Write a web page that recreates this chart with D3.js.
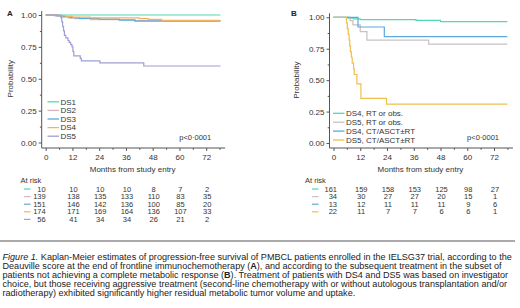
<!DOCTYPE html>
<html>
<head>
<meta charset="utf-8">
<script src="https://cdn.jsdelivr.net/npm/d3@7"></script>
<style>
  body { margin: 0; background: #fff; }
  svg { display: block; font-family: "Liberation Sans", Arial, sans-serif; }
  .axis text { font-size: 8px; fill: #333; }
  .axis line, .axis path { stroke: #555; }
</style>
</head>
<body>
<script>
// ---- data ----
var monthTicks = [0, 12, 24, 36, 48, 60, 72];
var probTicks = [0, 0.25, 0.5, 0.75, 1];

// panel A: Deauville score
var groupsA = ["DS1", "DS2", "DS3", "DS4", "DS5"];
var colorsA = ["#52d8b6", "#d9b6be", "#5ca8df", "#f0b459", "#a09ed3"];
var ds1 = [[0, 1], [78.4, 1]];
var ds2 = [[0, 1], [4, 0.993], [7, 0.986], [10, 0.978], [13, 0.971], [20, 0.964], [40, 0.957], [78.4, 0.957]];
var ds3 = [[0, 1], [5, 0.993], [8, 0.987], [11, 0.98], [15, 0.973], [24, 0.967], [33, 0.96], [40, 0.952], [78.4, 0.952]];
var ds4 = [[0, 1], [6, 0.994], [9, 0.989], [12, 0.983], [20, 0.977], [42, 0.971], [46, 0.965], [52, 0.958], [78.4, 0.958]];
var ds5 = [[0, 1], [6.8, 0.98], [7.2, 0.946], [7.6, 0.91], [8.0, 0.875], [8.4, 0.84], [9.0, 0.821], [10.0, 0.80], [10.5, 0.786],
           [11.2, 0.768], [11.8, 0.75], [12.2, 0.714], [12.6, 0.68], [15.5, 0.66], [16, 0.64], [24.3, 0.625], [44, 0.60], [78.4, 0.60]];
var curvesA = [ds1, ds2, ds3, ds4, ds5];
var riskA = [
  [10, 10, 10, 10, 8, 7, 2],
  [139, 138, 135, 133, 110, 83, 35],
  [151, 146, 142, 136, 100, 85, 20],
  [174, 171, 169, 164, 136, 107, 33],
  [56, 41, 34, 34, 26, 21, 2]
];

// panel B: subsequent treatment in DS4/DS5
var groupsB = ["DS4, RT or obs.", "DS5, RT or obs.", "DS4, CT/ASCT±RT", "DS5, CT/ASCT±RT"];
var colorsB = ["#52d8b6", "#c9c1c3", "#5ca8df", "#f0bf4c"];
var ds4rt = [[0, 1], [6.5, 0.994], [9, 0.988], [12, 0.981], [37, 0.975], [48, 0.966], [78, 0.966]];
var ds5rt = [[0, 1], [7.5, 0.973], [8.7, 0.94], [12, 0.886], [15, 0.818], [42.7, 0.786], [78, 0.786]];
var ds4ct = [[0, 1], [11, 0.923], [22.8, 0.846], [78, 0.846]];
var ds5ct = [[0, 1], [5.8, 0.955], [6.2, 0.91], [6.6, 0.864], [7.0, 0.818], [7.3, 0.773], [7.6, 0.727], [8.0, 0.682],
             [8.4, 0.636], [9.0, 0.59], [9.3, 0.545], [10.5, 0.47], [12.3, 0.355], [23.8, 0.31], [78, 0.31]];
var curvesB = [ds4rt, ds5rt, ds4ct, ds5ct];
var riskB = [
  [161, 159, 158, 153, 125, 98, 27],
  [34, 30, 27, 27, 20, 15, 1],
  [13, 12, 11, 11, 11, 9, 6],
  [22, 11, 7, 7, 6, 6, 1]
];

var captionLines = [
  [["i", "Figure 1."], ["n", " Kaplan-Meier estimates of progression-free survival of PMBCL patients enrolled in the IELSG37 trial, according to the"]],
  [["n", "Deauville score at the end of frontline immunochemotherapy ("], ["b", "A"], ["n", "), and according to the subsequent treatment in the subset of"]],
  [["n", "patients not achieving a complete metabolic response ("], ["b", "B"], ["n", "). Treatment of patients with DS4 and DS5 was based on investigator"]],
  [["n", "choice, but those receiving aggressive treatment (second-line chemotherapy with or without autologous transplantation and/or"]],
  [["n", "radiotherapy) exhibited significantly higher residual metabolic tumor volume and uptake."]]
];

var W = 520, H = 308;
var svg = d3.select("body").append("svg").attr("width", W).attr("height", H);

function panel(opt) {
  var x = d3.scaleLinear().domain([0, 72]).range([opt.x0, opt.x0 + 160.5]);
  var y = d3.scaleLinear().domain([0, 1]).range([opt.yBottom, opt.yTop]);
  var g = svg.append("g");
  var cornerX = opt.x0 - 4, cornerY = 148;

  // panel letter
  g.append("text").attr("x", opt.letterX).attr("y", 16)
    .style("font-size", "8px").style("font-weight", "bold").attr("fill", "#222").text(opt.letter);

  // y axis
  var yAx = g.append("g").attr("class", "axis").attr("transform", "translate(" + cornerX + ",0)")
    .call(d3.axisLeft(y).tickValues(probTicks).tickFormat(d3.format(".2f")).tickSize(3).tickPadding(2));
  yAx.select(".domain").remove();
  var yMinor = g.append("g").attr("class", "axis").attr("transform", "translate(" + cornerX + ",0)")
    .call(d3.axisLeft(y).tickValues([0.125, 0.375, 0.625, 0.875]).tickFormat("").tickSize(1.8));
  yMinor.select(".domain").remove();

  // x axis
  var xAx = g.append("g").attr("class", "axis").attr("transform", "translate(0," + cornerY + ")")
    .call(d3.axisBottom(x).tickValues(monthTicks).tickSize(3).tickPadding(3));
  xAx.select(".domain").remove();
  var xMinor = g.append("g").attr("class", "axis").attr("transform", "translate(0," + cornerY + ")")
    .call(d3.axisBottom(x).tickValues([6, 18, 30, 42, 54, 66, 78]).tickFormat("").tickSize(1.8));
  xMinor.select(".domain").remove();

  g.append("path")
    .attr("d", "M" + cornerX + "," + (y(1) - 4) + "V" + cornerY + "H" + x(80.5))
    .attr("fill", "none").attr("stroke", "#555").attr("stroke-width", 1);

  // axis titles
  g.append("text").attr("transform", "translate(" + opt.ylabX + "," + y(0.5) + ") rotate(-90)")
    .attr("text-anchor", "middle").style("font-size", "8px").attr("fill", "#333").text("Probability");
  g.append("text").attr("x", x(39)).attr("y", 172).attr("text-anchor", "middle")
    .style("font-size", "8px").attr("fill", "#333").text("Months from study entry");

  // curves
  var line = d3.line().x(function(d) { return x(d[0]); }).y(function(d) { return y(d[1]); })
    .curve(d3.curveStepAfter);
  opt.curves.forEach(function(c, i) {
    g.append("path").attr("d", line(c)).attr("fill", "none")
      .attr("stroke", opt.colors[i]).attr("stroke-width", 1.2);
  });

  // legend
  opt.groups.forEach(function(name, i) {
    var ly = opt.legY + i * opt.legStep;
    g.append("line").attr("x1", opt.legX).attr("x2", opt.legX + 11.5).attr("y1", ly).attr("y2", ly)
      .attr("stroke", opt.colors[i]).attr("stroke-width", 1.3);
    g.append("text").attr("x", opt.legX + 13).attr("y", ly).attr("dy", "0.35em")
      .style("font-size", "8px").attr("fill", "#333").text(name);
  });

  g.append("text").attr("x", x(72) + 5).attr("y", 137).attr("dy", "0.35em").attr("text-anchor", "end")
    .style("font-size", "7.5px").attr("fill", "#333").text("p<0·0001");

  // number at risk
  g.append("text").attr("x", opt.riskX).attr("y", 180).attr("dy", "0.35em")
    .style("font-size", "7.5px").attr("fill", "#333").text("At risk");
  opt.risk.forEach(function(row, i) {
    var ry = 189 + i * 7.6;
    g.append("line").attr("x1", opt.swX).attr("x2", opt.swX + 6.5).attr("y1", ry).attr("y2", ry)
      .attr("stroke", opt.colors[i]).attr("stroke-width", 1.2);
    row.forEach(function(v, j) {
      g.append("text")
        .attr("x", j === 0 ? x(0) + opt.firstOff : x(monthTicks[j]) + 1)
        .attr("y", ry).attr("dy", "0.35em")
        .attr("text-anchor", j === 0 ? "end" : "middle")
        .style("font-size", "7.5px").attr("fill", "#333").text(v);
    });
  });
}

panel({ letter: "A", letterX: 7, x0: 45.7, yTop: 15, yBottom: 142.5, ylabX: 13,
        curves: curvesA, colors: colorsA, groups: groupsA, legX: 47.5, legY: 101.8, legStep: 8.6,
        risk: riskA, riskX: 20.5, swX: 24, firstOff: 0 });
panel({ letter: "B", letterX: 291, x0: 333.5, yTop: 17.3, yBottom: 143, ylabX: 298.5,
        curves: curvesB, colors: colorsB, groups: groupsB, legX: 333, legY: 113.3, legStep: 8.9,
        risk: riskB, riskX: 305, swX: 312, firstOff: 3.5 });

// separator and caption
svg.append("line").attr("x1", 0).attr("x2", 515).attr("y1", 241).attr("y2", 241)
  .attr("stroke", "#aaa").attr("stroke-width", 2);

var cap = svg.append("g").style("font-size", "10px").attr("fill", "#222");
captionLines.forEach(function(parts, i) {
  var t = cap.append("text").attr("x", 2.5).attr("y", 256.7 + i * 9.15).attr("dy", "0.35em");
  parts.forEach(function(p) {
    var s = t.append("tspan").text(p[1]);
    if (p[0] === "i") s.style("font-style", "italic");
    if (p[0] === "b") s.style("font-weight", "bold");
  });
});
var firstW = cap.select("text").node().getComputedTextLength();
cap.style("font-size", (10 * 510 / firstW) + "px");
</script>
</body>
</html>
